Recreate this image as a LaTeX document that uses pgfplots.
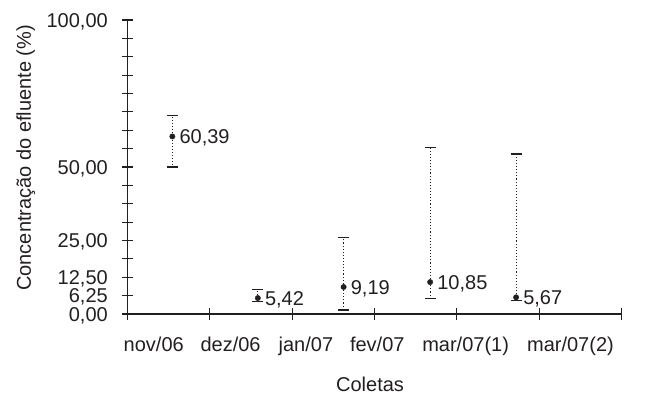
\documentclass[border=0pt]{standalone}
\usepackage{fontspec}
\setmainfont{Liberation Sans}
\usepackage{pgfplots}
\pgfplotsset{compat=1.18}
\usepackage{pgfplotstable}
\definecolor{ink}{HTML}{231F20}
\pgfplotstableread{
x y ep em lab
0.545 60.39 7.21 10.39 {60,39}
1.583 5.42 3.0 1.12 {5,42}
2.625 9.19 16.8 7.8 {9,19}
3.676 10.85 45.85 5.55 {10,85}
4.72 5.67 48.73 1.17 {5,67}
}\datatable
\begin{document}
\begin{tikzpicture}[font=\fontsize{20}{24}\selectfont, color=ink]
\path (-127.5pt,-79pt) rectangle (518.5pt,314pt);
\begin{axis}[at={(0,0)}, anchor=south west, scale only axis, width=494pt, height=294pt,
  xmin=0, xmax=6, ymin=0, ymax=100,
  axis x line*=bottom, axis y line*=left,
  axis line style={-, line width=1.2pt, ink},
  xtick={0,1,2,3,4,5,6}, xticklabels={},
  extra x ticks={0.319,1.252,2.167,3.034,4.107,5.380},
  extra x tick labels={nov/06,dez/06,jan/07,fev/07,mar/07(1),mar/07(2)},
  extra x tick style={major tick length=0pt, tick style={draw=none}},
  ytick={0,6.25,12.5,25,50,100},
  yticklabels={{0,00},{6,25},{12,50},{25,00},{50,00},{100,00}},
  minor ytick={18.75,31.25,37.5,43.75,56.25,62.5,68.75,75,81.25,87.5,93.75},
  tick align=center, major tick length=11pt, minor tick length=11pt,
  every tick/.style={line width=1.2pt, ink},
  xticklabel style={anchor=base, inner sep=0pt, yshift=-37.7pt},
  yticklabel style={anchor=base east, inner sep=0pt, yshift=-7.2pt, xshift=-14pt},
  typeset ticklabels with strut=false,
  xlabel={Coletas}, ylabel={Concentração do efluente (\%)},
  xlabel style={at={(axis description cs:0.491,-0.262)}, anchor=base},
  ylabel style={at={(axis description cs:-0.206,0.531)}, anchor=center},
  clip=false,
]
\addplot[only marks, mark=*, mark size=2.7pt, ink,
  nodes near coords, point meta=explicit symbolic,
  nodes near coords style={anchor=base west, inner sep=0pt, xshift=7pt, yshift=-7.2pt, ink},
  error bars/.cd, y dir=both, y explicit,
  error bar style={dash pattern=on 1.1pt off 2pt, line width=1pt, ink},
  error mark options={solid, rotate=90, mark size=5.5pt, line width=1.2pt, ink}]
  table[x=x, y=y, y error plus=ep, y error minus=em, meta=lab] {\datatable};
\end{axis}
\end{tikzpicture}
\end{document}
